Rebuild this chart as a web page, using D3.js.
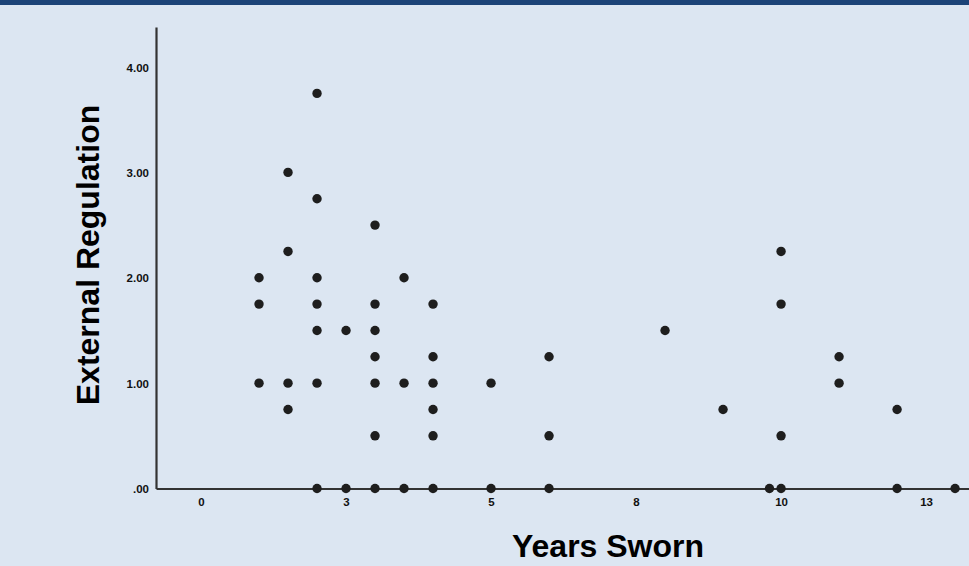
<!DOCTYPE html>
<html>
<head>
<meta charset="utf-8">
<script src="https://cdn.jsdelivr.net/npm/d3@7"></script>
<style>
  html, body { margin: 0; padding: 0; background: #dce6f2; }
  svg { display: block; }
</style>
</head>
<body>
<svg id="chart" width="969" height="566"></svg>
<script>
// ---- Data ----
const yearsSworn = [
  1, 1, 1,
  1.5, 1.5, 1.5, 1.5,
  2, 2, 2, 2, 2, 2, 2,
  2.5, 2.5,
  3, 3, 3, 3, 3, 3, 3,
  3.5, 3.5, 3.5,
  4, 4, 4, 4, 4, 4,
  5, 5,
  6, 6, 6,
  8,
  9,
  9.8,
  10, 10, 10, 10,
  11, 11,
  12, 12,
  13
];
const externalRegulation = [
  2.0, 1.75, 1.0,
  3.0, 2.25, 1.0, 0.75,
  3.75, 2.75, 2.0, 1.75, 1.5, 1.0, 0,
  1.5, 0,
  2.5, 1.75, 1.5, 1.25, 1.0, 0.5, 0,
  2.0, 1.0, 0,
  1.75, 1.25, 1.0, 0.75, 0.5, 0,
  1.0, 0,
  1.25, 0.5, 0,
  1.5,
  0.75,
  0,
  2.25, 1.75, 0.5, 0,
  1.25, 1.0,
  0.75, 0,
  0
];
const xTickValues = [0, 2.5, 5, 7.5, 10, 12.5];
const xTickLabels = ["0", "3", "5", "8", "10", "13"];
const yTickValues = [0, 1, 2, 3, 4];
const yTickLabels = [".00", "1.00", "2.00", "3.00", "4.00"];
const xTitle = "Years Sworn";
const yTitle = "External Regulation";

// ---- Drawing ----
const svg = d3.select("#chart");
const W = 969, H = 566;

svg.append("rect").attr("x", 0).attr("y", 0).attr("width", W).attr("height", H).attr("fill", "#dce6f2");
svg.append("rect").attr("x", 0).attr("y", 0).attr("width", W).attr("height", 5).attr("fill", "#1c4478");

const x = d3.scaleLinear().domain([-0.776, 13.24]).range([156, 969]);
const y = d3.scaleLinear().domain([0, 4.38]).range([488.5, 27]);

const font = "'Liberation Sans', Arial, sans-serif";

// X axis
const xAxis = svg.append("g")
  .attr("transform", `translate(0,${y(0)})`)
  .call(d3.axisBottom(x)
    .tickValues(xTickValues)
    .tickFormat((d, i) => xTickLabels[i])
    .tickSize(0)
    .tickPadding(9));
xAxis.select(".domain").attr("stroke", "#333").attr("stroke-width", 2.2);
xAxis.selectAll("text")
  .attr("fill", "#111")
  .style("font-family", font)
  .style("font-weight", "bold")
  .style("font-size", "11.5px");

// Y axis
const yAxis = svg.append("g")
  .attr("transform", `translate(${x.range()[0]},0)`)
  .call(d3.axisLeft(y)
    .tickValues(yTickValues)
    .tickFormat((d, i) => yTickLabels[i])
    .tickSize(0)
    .tickPadding(7));
yAxis.select(".domain").attr("stroke", "#333").attr("stroke-width", 2.2);
yAxis.selectAll("text")
  .attr("fill", "#111")
  .style("font-family", font)
  .style("font-weight", "bold")
  .style("font-size", "11.5px")
  .attr("dy", "0.35em");

// Points
const pts = yearsSworn.map((v, i) => ({ x: v, y: externalRegulation[i] }));
svg.append("g")
  .selectAll("circle")
  .data(pts)
  .join("circle")
  .attr("cx", d => x(d.x))
  .attr("cy", d => y(d.y))
  .attr("r", 4.7)
  .attr("fill", "#1e1e1e");

// Titles
svg.append("text")
  .attr("x", 608)
  .attr("y", 557)
  .attr("text-anchor", "middle")
  .style("font-family", font)
  .style("font-weight", "bold")
  .style("font-size", "32px")
  .attr("fill", "#000")
  .text(xTitle);

svg.append("text")
  .attr("transform", "translate(99,255) rotate(-90)")
  .attr("text-anchor", "middle")
  .style("font-family", font)
  .style("font-weight", "bold")
  .style("font-size", "32px")
  .attr("fill", "#000")
  .text(yTitle);
</script>
</body>
</html>
